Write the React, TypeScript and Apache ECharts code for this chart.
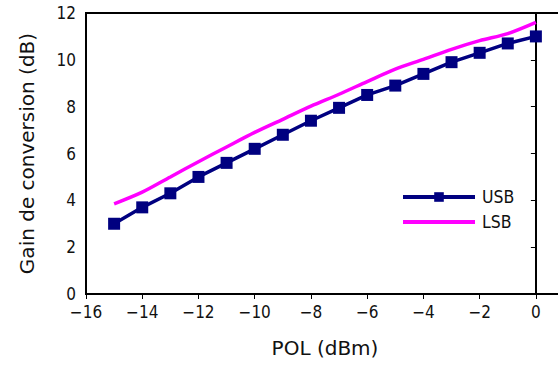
import React, { useEffect, useRef } from "react";
import * as echarts from "echarts";

const pol = [-15, -14, -13, -12, -11, -10, -9, -8, -7, -6, -5, -4, -3, -2, -1, 0];
const usb = [3.0, 3.7, 4.3, 5.0, 5.6, 6.2, 6.8, 7.4, 7.95, 8.5, 8.9, 9.4, 9.9, 10.3, 10.7, 11.0];
const lsb = [3.85, 4.35, 5.0, 5.65, 6.28, 6.9, 7.46, 8.02, 8.53, 9.07, 9.6, 10.02, 10.45, 10.82, 11.12, 11.6];

const FONT = "'DejaVu Sans Condensed', 'DejaVu Sans', sans-serif";
const TFONT = "'DejaVu Sans', sans-serif";
const minus = (v: number) => String(v).replace("-", "\u2212");

export default function App() {
  const ref = useRef<HTMLDivElement>(null);
  useEffect(() => {
    const chart = echarts.init(ref.current!, null, { renderer: "svg" });
    chart.setOption({
      animation: false,
      backgroundColor: "#fff",
      grid: {
        left: 86,
        top: 13,
        right: 16,
        bottom: 73,
        show: true,
        borderColor: "#000",
        borderWidth: 2,
        backgroundColor: "transparent",
      },
      legend: {
        orient: "vertical",
        left: 396,
        top: 183,
        itemWidth: 72,
        itemHeight: 12,
        itemGap: 7,
        textStyle: { fontFamily: FONT, fontSize: 17.5, color: "#111", padding: [0, 0, 0, 2] },
        data: [
          { name: "USB", lineStyle: { width: 4, color: "#000080" } },
          { name: "LSB", itemStyle: { opacity: 0 }, lineStyle: { width: 4, color: "#ff00ff" } },
        ],
      },
      xAxis: {
        type: "value",
        min: -16,
        max: 1,
        interval: 2,
        name: "POL (dBm)",
        nameLocation: "middle",
        nameGap: 44,
        nameTextStyle: { fontFamily: TFONT, fontSize: 20, color: "#111" },
        axisLine: { lineStyle: { color: "#000", width: 2 } },
        axisTick: { inside: false, length: 5, lineStyle: { color: "#000" } },
        axisLabel: {
          fontFamily: FONT,
          fontSize: 17,
          color: "#111",
          margin: 9,
          showMaxLabel: false,
          formatter: (v: number) => minus(v),
        },
        splitLine: { show: false },
      },
      yAxis: {
        type: "value",
        min: 0,
        max: 12,
        interval: 2,
        name: "Gain de conversion (dB)",
        nameLocation: "middle",
        nameGap: 49,
        nameTextStyle: { fontFamily: TFONT, fontSize: 20, color: "#111" },
        axisLine: { show: true, lineStyle: { color: "#000", width: 2 } },
        axisTick: { show: true, inside: false, length: 5, lineStyle: { color: "#000" } },
        axisLabel: { fontFamily: FONT, fontSize: 17, color: "#111", margin: 10 },
        splitLine: { show: false },
      },
      series: [
        {
          name: "LSB",
          type: "line",
          data: pol.map((x, i) => [x, lsb[i]]),
          smooth: 0.3,
          symbol: "none",
          lineStyle: { color: "#ff00ff", width: 3.5 },
          itemStyle: { color: "#ff00ff" },
        },
        {
          name: "USB",
          type: "line",
          data: pol.map((x, i) => [x, usb[i]]),
          symbol: "rect",
          symbolSize: 12,
          lineStyle: { color: "#000080", width: 3.5 },
          itemStyle: { color: "#000080" },
        },
      ],
    });
    return () => chart.dispose();
  }, []);
  return (
    <div
      ref={ref}
      style={{ position: "fixed", left: 0, top: 0, width: 580, height: 367, background: "#fff" }}
    />
  );
}
